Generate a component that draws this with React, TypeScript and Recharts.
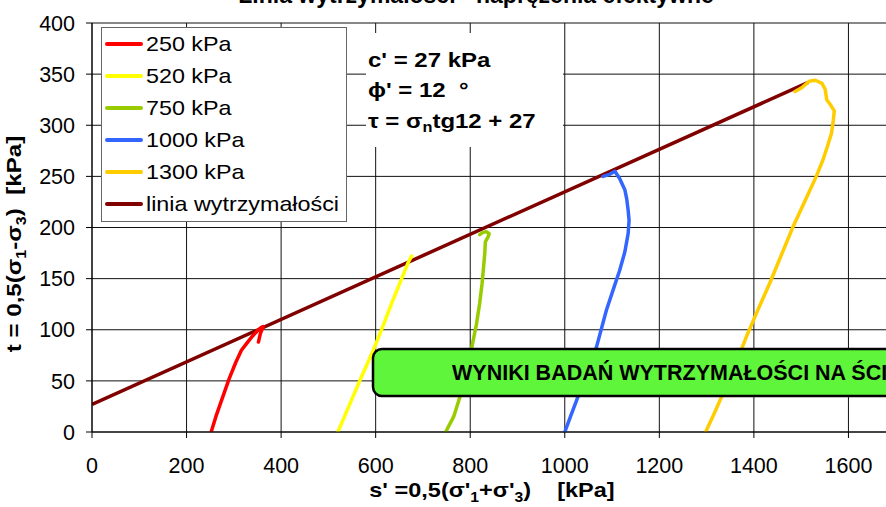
import React from "react";
import { LineChart, Line, XAxis, YAxis, CartesianGrid, Legend } from "recharts";

const FONT = '"Liberation Sans", Arial, sans-serif';
const NB = "\u00a0";

const xTicks = [0, 200, 400, 600, 800, 1000, 1200, 1400, 1600, 1800];
const yTicks = [0, 50, 100, 150, 200, 250, 300, 350, 400];

// stress paths, s' and t in kPa
const s250 = [252, 262, 274, 290, 304, 316, 326, 338, 350, 357, 362, 356, 352];
const t250 = [0, 15, 31, 52, 68, 80, 86, 93, 99, 102, 103, 96, 88];

const s520 = [520, 545, 570, 595, 615, 634, 655, 668, 676];
const t520 = [0, 27, 54, 80, 103, 126, 150, 165, 172];

const s750 = [748, 765, 778, 792, 803, 813, 820, 825, 828, 831, 832, 838, 840, 834, 826, 820];
const t750 = [0, 15, 34, 58, 82, 105, 126, 145, 160, 176, 186, 191, 194, 196, 195, 193];

const s1000 = [1000, 1012, 1025, 1046, 1067, 1088, 1103, 1116, 1127, 1134, 1136, 1134, 1131, 1127, 1116, 1106, 1095, 1081];
const t1000 = [0, 15, 31, 57, 83, 119, 140, 158, 176, 194, 207, 217, 228, 237, 248, 255, 252, 250];

const s1300 = [1298, 1318, 1335, 1360, 1384, 1408, 1433, 1458, 1483, 1508, 1532, 1546, 1556, 1564, 1568, 1570, 1562, 1554, 1551, 1544, 1530, 1517, 1502, 1487];
const t1300 = [0, 20, 38, 65, 93, 119, 145, 173, 201, 226, 250, 266, 280, 292, 305, 314, 320, 325, 335, 341, 344, 343, 337, 333];

// failure envelope end points
const sFail = [0, 1515];
const tFail = [27, 342];

const toPoints = (s: number[], t: number[]) => s.map((v, i) => ({ s: v, t: t[i] }));

const series = [
    { name: "250 kPa", color: "#ff0000", data: toPoints(s250, t250) },
    { name: "520 kPa", color: "#ffff00", data: toPoints(s520, t520) },
    { name: "750 kPa", color: "#99cc00", data: toPoints(s750, t750) },
    { name: "1000 kPa", color: "#3366ff", data: toPoints(s1000, t1000) },
    { name: "1300 kPa", color: "#ffcc00", data: toPoints(s1300, t1300) },
];
const failLine = { name: "linia wytrzymałości", color: "#800000", data: toPoints(sFail, tFail) };

function LegendBox() {
    const items = [...series, failLine];
    return (
        <div
            style={{
                width: 246,
                height: 195,
                boxSizing: "border-box",
                border: "1.5px solid #666",
                background: "#fff",
                fontFamily: FONT,
                fontSize: 21,
                color: "#000",
            }}
        >
            {items.map((it) => (
                <div key={it.name} style={{ height: 32, display: "flex", alignItems: "center" }}>
                    <svg width={44} height={8} style={{ flex: "none" }}>
                        <line x1={5} x2={39} y1={4} y2={4} stroke={it.color} strokeWidth={4} strokeLinecap="round" />
                    </svg>
                    <span style={{ whiteSpace: "nowrap", display: "inline-block", transform: "scaleX(1.11)", transformOrigin: "left center" }}>
                        {it.name}
                    </span>
                </div>
            ))}
        </div>
    );
}

function YTitle() {
    return (
        <text
            transform="translate(21,244) rotate(-90) scale(1.15,1)"
            textAnchor="middle"
            fontFamily={FONT}
            fontWeight="bold"
            fontSize={21}
            fill="#000"
        >
            t = 0,5(σ<tspan fontSize={14} dy={5}>1</tspan>
            <tspan dy={-5}>-σ</tspan>
            <tspan fontSize={14} dy={5}>3</tspan>
            <tspan dy={-5}>){NB}{NB}[kPa]</tspan>
        </text>
    );
}

function XTitle() {
    return (
        <text
            transform="translate(492,497) scale(1.12,1)"
            textAnchor="middle"
            fontFamily={FONT}
            fontWeight="bold"
            fontSize={21}
            fill="#000"
        >
            s' =0,5(σ'<tspan fontSize={14} dy={5}>1</tspan>
            <tspan dy={-5}>+σ'</tspan>
            <tspan fontSize={14} dy={5}>3</tspan>
            <tspan dy={-5}>){NB}{NB}{NB}{NB}[kPa]</tspan>
        </text>
    );
}

function Overlay() {
    return (
        <svg width={886} height={507} style={{ position: "absolute", left: 0, top: 0, pointerEvents: "none" }}>
            <text x={476} y={3} textAnchor="middle" fontFamily={FONT} fontWeight="bold" fontSize={23} fill="#000">
                Linia wytrzymałości - naprężenia efektywne
            </text>

            <rect x={366} y={33} width={197} height={114} fill="#fff" />
            <g transform="translate(368,0) scale(1.17,1)" fontFamily={FONT} fontWeight="bold" fontSize={20.5} fill="#000">
                <text x={0} y={67}>c' = 27 kPa</text>
                <text x={0} y={97}>ϕ' = 12{NB}{NB}°</text>
                <text x={0} y={128}>
                    τ = σ<tspan fontSize={14} dy={4}>n</tspan>
                    <tspan dy={-4}>tg12 + 27</tspan>
                </text>
            </g>

            <rect x={373} y={349} width={600} height={47} rx={9} fill="#5ef53b" stroke="#000" strokeWidth={2.5} />
            <text x={452} y={380} fontFamily={FONT} fontWeight="bold" fontSize={21.5} fill="#000">
                WYNIKI BADAŃ WYTRZYMAŁOŚCI NA ŚCINANIE
            </text>
        </svg>
    );
}

export default function App() {
    return (
        <div style={{ position: "absolute", left: 0, top: 0, width: 886, height: 507, overflow: "hidden", background: "#fff" }}>
            <LineChart width={960} height={507} margin={{ top: 23, right: 17, left: 0, bottom: 0 }}>
                <CartesianGrid stroke="#111" strokeWidth={1} horizontalValues={yTicks} verticalValues={xTicks} />
                <XAxis
                    type="number"
                    dataKey="s"
                    domain={[0, 1800]}
                    ticks={xTicks}
                    interval={0}
                    height={75}
                    tickSize={6}
                    tickMargin={20}
                    stroke="#000"
                    tick={{ fill: "#000", fontSize: 21.5, fontFamily: FONT }}
                    allowDataOverflow
                    label={<XTitle />}
                />
                <YAxis
                    type="number"
                    dataKey="t"
                    domain={[0, 400]}
                    ticks={yTicks}
                    interval={0}
                    width={92}
                    tickSize={6}
                    tickMargin={11}
                    stroke="#000"
                    tick={{ fill: "#000", fontSize: 21.5, fontFamily: FONT }}
                    allowDataOverflow
                    label={<YTitle />}
                />
                <Legend
                    layout="vertical"
                    align="center"
                    verticalAlign="middle"
                    wrapperStyle={{ left: 101, top: 27, width: 246 }}
                    content={() => <LegendBox />}
                />
                <Line
                    data={failLine.data}
                    dataKey="t"
                    name={failLine.name}
                    type="linear"
                    stroke={failLine.color}
                    strokeWidth={3.5}
                    dot={false}
                    isAnimationActive={false}
                />
                {series.map((sr) => (
                    <Line
                        key={sr.name}
                        data={sr.data}
                        dataKey="t"
                        name={sr.name}
                        type="linear"
                        stroke={sr.color}
                        strokeWidth={3.5}
                        strokeLinejoin="round"
                        strokeLinecap="round"
                        dot={false}
                        isAnimationActive={false}
                    />
                ))}
            </LineChart>
            <Overlay />
        </div>
    );
}
